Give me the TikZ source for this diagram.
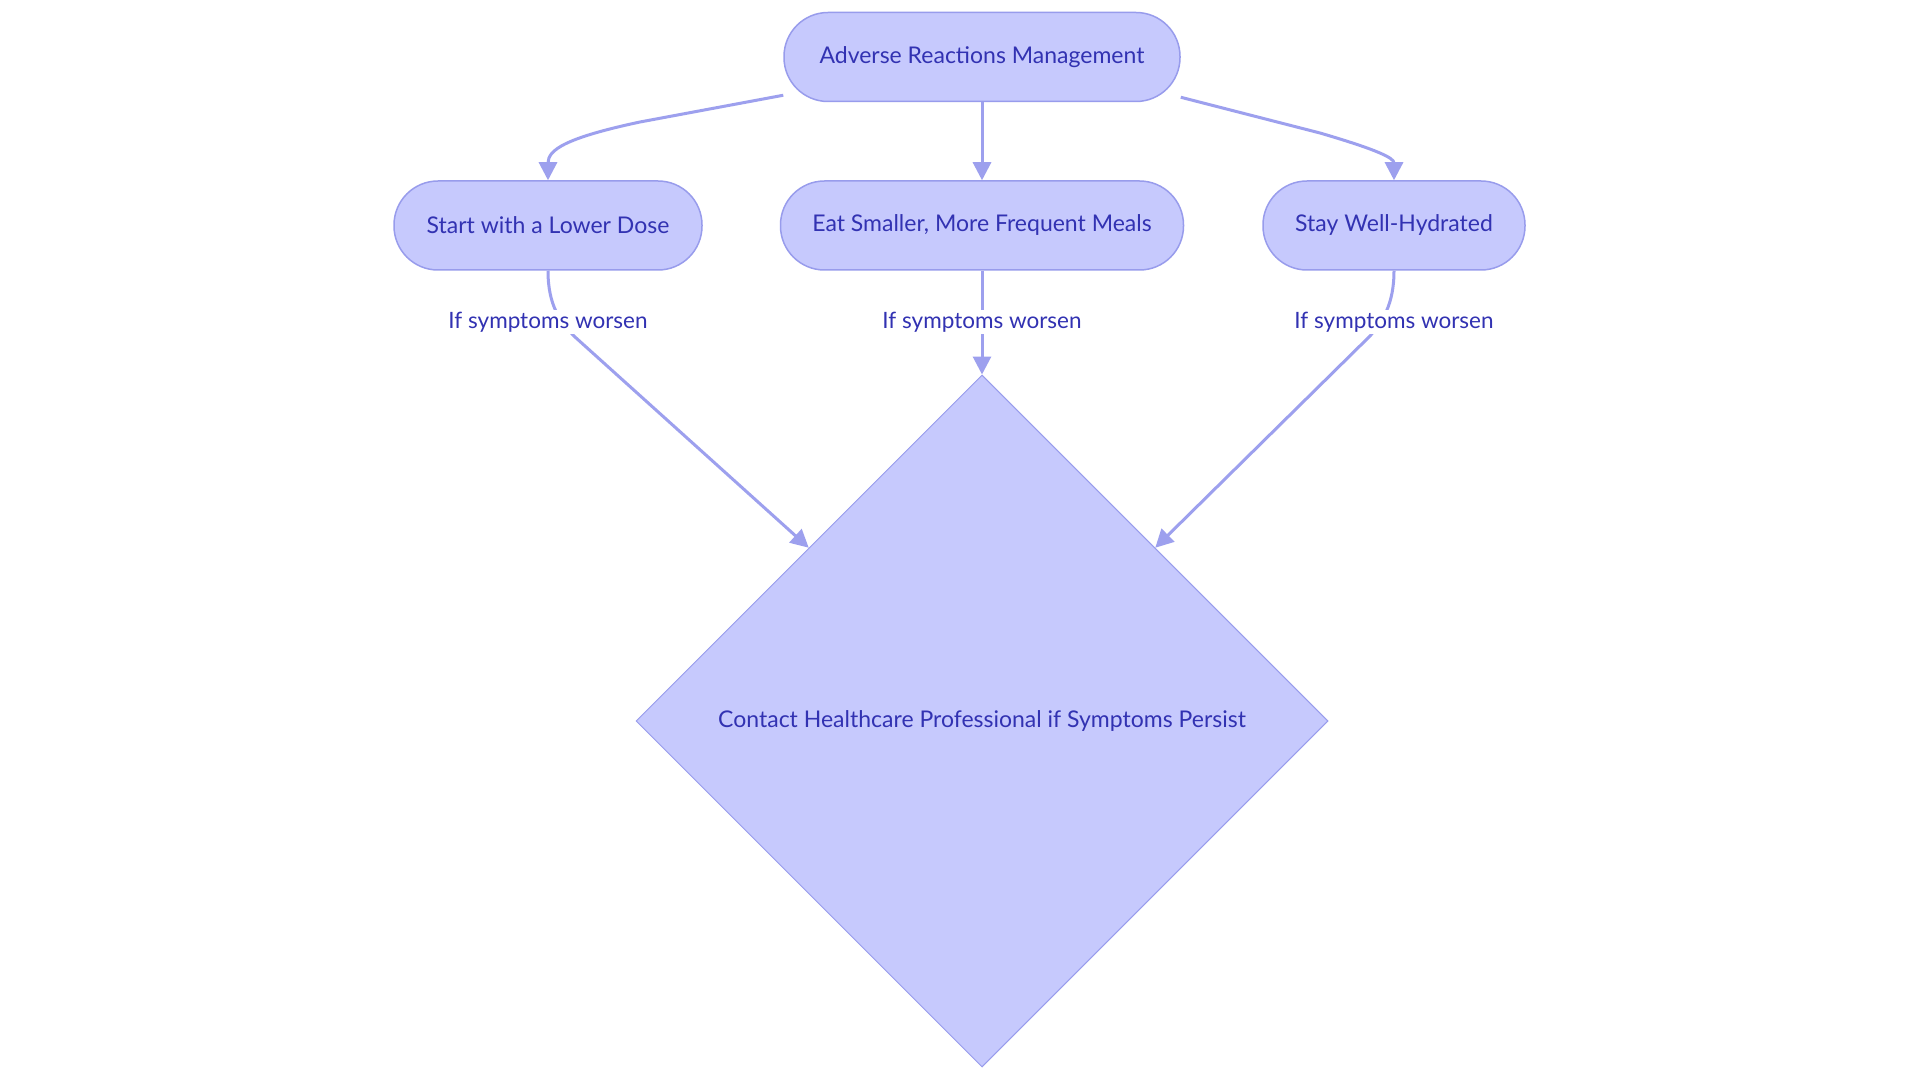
\documentclass[tikz,border=0pt]{standalone}
\usepackage{fontspec}
\setmainfont{Lato}
\usetikzlibrary{shapes.geometric,arrows.meta}
\definecolor{fillc}{RGB}{198,201,253}
\definecolor{strokec}{RGB}{152,156,236}
\definecolor{textc}{RGB}{50,50,178}
\definecolor{edgec}{RGB}{157,160,238}
\tikzset{
  stadium/.style={draw=strokec,fill=fillc,line width=1.5pt,rounded corners=44pt,
    minimum height=89pt,inner sep=0pt,text=textc,font=\fontsize{23}{27}\selectfont},
  decision/.style={draw=strokec,fill=fillc,line width=1pt,diamond,aspect=1,
    minimum width=692pt,minimum height=692pt,inner sep=0pt,text=textc,font=\fontsize{23}{27}\selectfont},
  edge/.style={draw=edgec,line width=3pt,-{Triangle[length=18pt,width=18pt]}},
  elabel/.style={fill=white,text=textc,inner sep=2pt,font=\fontsize{22.5}{27}\selectfont}
}
\begin{document}
\begin{tikzpicture}[x=1pt,y=-1pt]
\useasboundingbox[fill=white] (0,0) rectangle (1920,1083);
\node[stadium,minimum width=396pt] (T) at (982,57) {Adverse Reactions Management};
\node[stadium,minimum width=308pt] (L) at (548,225.5) {Start with a Lower Dose};
\node[stadium,minimum width=403pt] (M) at (982,225.5) {Eat Smaller, More Frequent Meals};
\node[stadium,minimum width=262pt] (R) at (1394,225.5) {Stay Well-Hydrated};
\node[decision] (D) at (982,721) {Contact Healthcare Professional if Symptoms Persist};
\coordinate (TL) at ([yshift=7pt]T.south west);
\coordinate (TR) at ([yshift=5pt]T.south east);
\draw[edge] (TL) -- (640,122) .. controls (565,138) and (548,150) .. (L.north);
\draw[edge] (T.south) -- (M.north);
\draw[edge] (TR) -- (1320,133) .. controls (1378,150) and (1394,158) .. (R.north);
\draw[edge] (L.south) .. controls (548,305) and (560,322) .. (575,337) -- (D.north west);
\draw[edge] (M.south) -- (D.north);
\draw[edge] (R.south) .. controls (1394,305) and (1382,322) .. (1370,336) -- (D.north east);
\node[elabel] (l1) at (548,322) {If symptoms worsen};
\node[elabel] (l2) at (982,322) {If symptoms worsen};
\node[elabel] (l3) at (1394,322) {If symptoms worsen};
\end{tikzpicture}
\end{document}
